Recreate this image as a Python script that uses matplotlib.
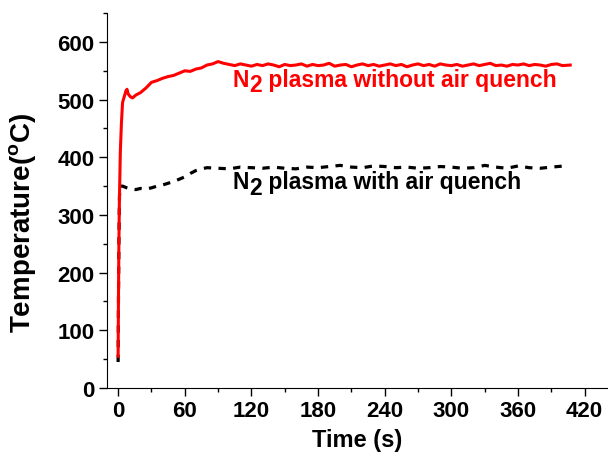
import matplotlib.pyplot as plt
from matplotlib.ticker import MultipleLocator

plt.rcParams['font.family'] = ['Liberation Sans', 'DejaVu Sans']
plt.rcParams['font.weight'] = 'bold'
plt.rcParams['axes.labelweight'] = 'bold'
plt.rcParams['mathtext.fontset'] = 'custom'
plt.rcParams['mathtext.rm'] = 'Liberation Sans:bold'
plt.rcParams['mathtext.default'] = 'rm'

# N2 plasma without air quench (red)
t_red = [0, 0.3, 0.7, 1.2, 2, 3, 4, 5.5, 7, 8, 9, 11, 13, 16, 20, 25, 30, 35, 40,
         45, 50, 55, 60, 65, 70, 75, 80, 85, 90, 95, 100, 105, 110, 115, 120, 125,
         130, 135, 140, 145, 150, 155, 160, 165, 170, 175, 180, 185, 190, 195, 200,
         205, 210, 215, 220, 225, 230, 235, 240, 245, 250, 255, 260, 265, 270, 275,
         280, 285, 290, 295, 300, 305, 310, 315, 320, 325, 330, 335, 340, 345, 350,
         355, 360, 365, 370, 375, 380, 385, 390, 395, 400, 407]
T_red = [55, 150, 250, 330, 410, 460, 495, 505, 515, 518, 510, 505, 503, 508, 512,
         520, 530, 533, 537, 540, 542, 546, 550, 549, 553, 555, 560, 562, 566, 563,
         561, 559, 562, 560, 558, 561, 559, 562, 560, 557, 561, 559, 560, 562, 558,
         561, 559, 560, 563, 558, 560, 561, 557, 560, 562, 559, 561, 558, 560, 562,
         559, 561, 557, 560, 562, 559, 561, 558, 562, 560, 559, 561, 558, 560, 562,
         559, 561, 563, 559, 560, 558, 561, 560, 562, 559, 561, 560, 558, 561, 562,
         559, 560]

# N2 plasma with air quench (black dashed)
t_blk = [0, 0.3, 0.7, 1.2, 1.6, 4, 8, 12, 16, 20, 25, 30, 35, 40, 45, 50, 55, 60,
         65, 70, 75, 80, 90, 100, 110, 120, 130, 140, 150, 160, 170, 180, 190, 200,
         210, 220, 230, 240, 250, 260, 270, 280, 290, 300, 310, 320, 330, 340, 350,
         360, 370, 380, 390, 402]
T_blk = [45, 150, 250, 330, 350, 350, 347, 345, 344, 346, 345, 347, 350, 352, 355,
         358, 362, 366, 372, 377, 380, 382, 381, 380, 383, 382, 381, 383, 381, 380,
         383, 382, 384, 386, 383, 382, 385, 384, 382, 383, 381, 382, 384, 383, 381,
         382, 386, 383, 381, 385, 382, 381, 383, 385]

fig = plt.figure(figsize=(6.08, 4.56), dpi=100)
ax = fig.add_axes([0.176, 0.147, 0.824, 0.822])

ax.plot(t_blk, T_blk, color='black', lw=2.3, dashes=(2.3, 2.3))
ax.plot(t_red, T_red, color='#ff0000', lw=2.2)


def label_n2(x, y, rest, color):
    # "N" + full-size lowered "2" + rest of the text
    n = ax.text(x, y, 'N', color=color, fontsize=16.5, va='baseline')
    two = ax.annotate('2', xy=(1, 0), xycoords=n, xytext=(0.5, -4),
                      textcoords='offset points', color=color, fontsize=16.5,
                      va='bottom')
    ax.annotate(rest, xy=(1, 0), xycoords=two, xytext=(0, 4),
                textcoords='offset points', color=color, fontsize=16.5,
                va='bottom')


label_n2(103, 524, ' plasma without air quench', '#ff0000')
label_n2(103, 346, ' plasma with air quench', 'black')

ax.set_xlim(-10, 441)
ax.set_ylim(0, 650)
ax.xaxis.set_major_locator(MultipleLocator(60))
ax.xaxis.set_minor_locator(MultipleLocator(30))
ax.yaxis.set_major_locator(MultipleLocator(100))
ax.yaxis.set_minor_locator(MultipleLocator(50))
ax.tick_params(which='major', length=5.5, width=1, labelsize=16, direction='out')
ax.tick_params(which='minor', length=3, width=1, direction='out')
ax.spines['top'].set_visible(False)
ax.spines['right'].set_visible(False)

ax.set_xlabel('Time (s)', fontsize=17, labelpad=5)
ax.set_ylabel('Temperature($^\\mathrm{o}$C)', fontsize=20)
ax.yaxis.set_label_coords(-0.137, 0.443)

fig.savefig('out.png', dpi=100)
